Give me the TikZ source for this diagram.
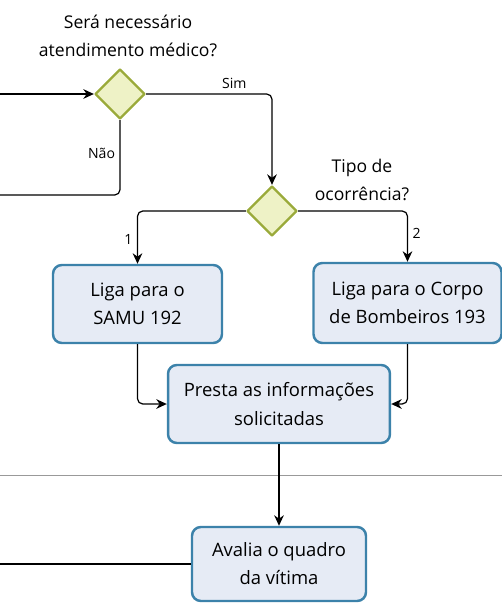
\documentclass[tikz,border=0pt]{standalone}
\usepackage{fontspec}
\setmainfont{Open Sans}
\usetikzlibrary{shapes.geometric,arrows.meta}
\definecolor{azulborda}{HTML}{3C82AA}
\definecolor{azulfundo}{HTML}{E6EBF5}
\definecolor{verdeborda}{HTML}{9AAA3A}
\definecolor{verdefundo}{HTML}{EEF2C6}
\begin{document}
\begin{tikzpicture}[x=0.02cm,y=-0.02cm,line width=0.7pt,line join=round,>={Stealth[length=6pt,width=5.5pt]},
	tarefa/.style={rectangle,rounded corners=5pt,draw=azulborda,fill=azulfundo,line width=1.4pt,align=center,font=\fontsize{10.5}{16}\selectfont},
	decisao/.style={diamond,draw=verdeborda,fill=verdefundo,line width=1.3pt,minimum width=1cm,minimum height=1cm,inner sep=0pt},
	pergunta/.style={align=center,font=\fontsize{10}{15.5}\selectfont},
	rotulo/.style={font=\fontsize{8}{9}\selectfont,inner sep=2.5pt},
	fluxo/.style={->,rounded corners=3pt}]
	\useasboundingbox (0,0) rectangle (502,603);
	% raia
	\draw[gray!80,line width=0.5pt] (0,475)--(502,475);
	% decisoes
	\node[decisao] (atend) at (120,94) {};
	\node[pergunta] at (128,36) {Será necessário\\atendimento médico?};
	\node[decisao] (tipo) at (272,211) {};
	\node[pergunta] at (362,180) {Tipo de\\ocorrência?};
	% tarefas
	\node[tarefa,minimum width=3.38cm,minimum height=1.56cm] (samu) at (137.5,304) {Liga para o\\SAMU 192};
	\node[tarefa,minimum width=3.76cm,minimum height=1.6cm] (bombeiros) at (407.5,303) {Liga para o Corpo\\de Bombeiros 193};
	\node[tarefa,minimum width=4.44cm,minimum height=1.56cm] (presta) at (279,404) {Presta as informações\\solicitadas};
	\node[tarefa,minimum width=3.48cm,minimum height=1.48cm] (avalia) at (279,564) {Avalia o quadro\\da vítima};
	\coordinate (entrada) at (0,94);
	\coordinate (saida) at (0,195);
	\coordinate (retorno) at (0,564);
	% ligacoes
	\draw[->] (entrada)--(atend.west);
	\draw[rounded corners=3pt] (atend.south) |- node[rotulo,pos=0.22,left]{Não} (saida);
	\draw[fluxo] (atend.east) -| node[rotulo,pos=0.35,above]{Sim} (tipo.north);
	\draw[fluxo] (tipo.west) -| node[rotulo,pos=0.77,left]{1} (samu.north);
	\draw[fluxo] (tipo.east) -| node[rotulo,pos=0.72,right]{2} (bombeiros.north);
	\draw[fluxo] (samu.south) |- (presta.west);
	\draw[fluxo] (bombeiros.south) |- (presta.east);
	\draw[->] (presta.south)--(avalia.north);
	\draw (avalia.west)--(retorno);
\end{tikzpicture}
\end{document}
